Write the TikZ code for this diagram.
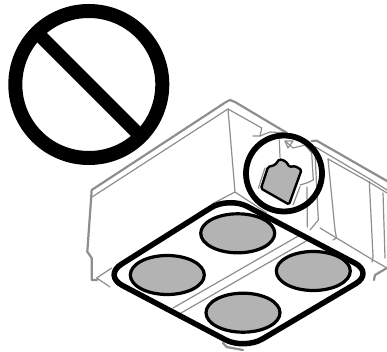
\documentclass[tikz,border=0pt]{standalone}
\definecolor{gl}{HTML}{8E8E8E}
\definecolor{gf}{HTML}{B3B3B3}
\tikzset{
 outerln/.style={draw=gl,line width=2.2pt,line join=round,line cap=round},
 innerln/.style={draw=gl,line width=1.2pt,line join=round,line cap=round},
 blk/.style={draw=black,line join=round,line cap=round},
 pad/.style={draw=black,fill=gf,line width=3.2pt}
}
\begin{document}
\begin{tikzpicture}[x=1pt,y=-1pt]
\useasboundingbox (0,0) rectangle (387,352);
% prohibition sign
\draw[black,line width=14pt] (88.8,84.5) circle (73.5);
\draw[black,line width=13.5pt] (36.8,32.5) -- (140.8,136.5);
% box outer
\draw[outerln] (91.7,190) -- (87.3,251.7) -- (91.7,258) -- (91.7,280) -- (97,280);
\draw[outerln] (91.7,190) -- (226,102) -- (230,100) -- (235,102) -- (287,133);
\draw[outerln] (311.7,141) -- (316.7,140.7) -- (387,181);
\draw[outerln] (374,280) -- (375,275) -- (387,268);
\draw[outerln] (223,343) -- (226.7,347) -- (243,350);
% box inner
\draw[innerln] (92,197) -- (228,109) -- (261.7,128) -- (260,136) -- (253,136);
\draw[innerln] (260,136) -- (270,132) -- (287,133);
\draw[innerln] (228,109) -- (235,192) -- (266.7,213);
\draw[innerln] (235,192) -- (212,204);
\draw[innerln] (96.7,278) -- (111.7,268);
\draw[innerln] (96.7,278) -- (110,287);
\draw[innerln] (279.3,140) -- (280,157);
\draw[innerln] (285,141) -- (293,148) -- (305,145) -- (311.7,153) -- (313.3,180) -- (306.7,183) -- (300,185);
\draw[innerln] (285,141) -- (293,141) -- (288,148) -- cycle;
\draw[innerln] (315,153) -- (318.3,220) -- (310,230);
\draw[innerln] (307,187) -- (307.3,227);
\draw[innerln] (315,146.7) -- (368,178) -- (387,190);
\draw[innerln] (328,159) -- (369,182) -- (387,193);
\draw[innerln] (328,159) -- (335,230) -- (336.5,238) -- (333,240);
\draw[innerln] (320,228) -- (373,260) -- (387,268);
\draw[innerln] (369.3,181.7) -- (373,256.7) -- (372,262);
\draw[innerln] (383,193) -- (385,258);
% floor bars
\draw[innerln] (173,308) -- (300,235);
\draw[innerln] (181,313) -- (308,240);
% frame and pads
\draw[blk,line width=5.5pt,rounded corners=21pt] (103.5,275.5) -- (228.6,196.6) -- (373.7,273) -- (244.3,349.7) -- cycle;
\draw[pad] (237.7,233.3) ellipse (37 and 19.5);
\draw[pad] (167.3,275) ellipse (37 and 19.5);
\draw[pad] (313.3,271) ellipse (37 and 19.5);
\draw[pad] (243,312.7) ellipse (37 and 19.5);
% tag
\draw[innerln] (258.3,188.3) -- (265,168);
\draw[innerln] (293,205) -- (300,186.7);
\draw[draw=black,fill=gf,line width=2.4pt,line join=round,rounded corners=1.5pt]
  (261,188.5) -- (268,167) -- (275,165) -- (279.5,159) -- (286,161.5) -- (289.5,167) -- (295,166) -- (301.5,170) -- (289,204.5) -- cycle;
\draw[black,line width=5.8pt] (284,173.5) circle (38);
\end{tikzpicture}
\end{document}
